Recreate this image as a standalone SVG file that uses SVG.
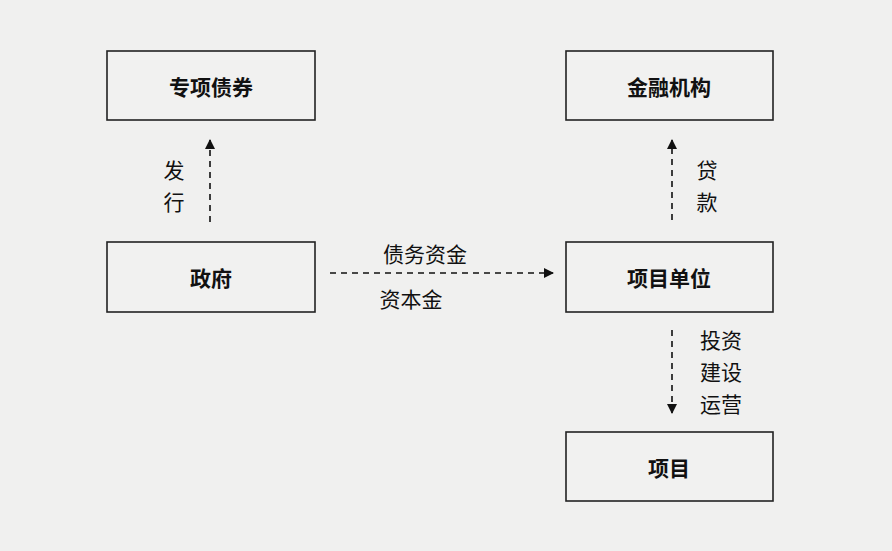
<svg xmlns="http://www.w3.org/2000/svg" width="892" height="551" viewBox="0 0 892 551">
<defs>
<style>
.box{fill:#f1f1f0;stroke:#222;stroke-width:1.6}
.t{font-family:"Noto Sans CJK SC",sans-serif;font-size:21px;font-weight:bold;fill:#111;text-anchor:middle;dominant-baseline:central}
.l{font-family:"Noto Sans CJK SC",sans-serif;font-size:21px;fill:#111;text-anchor:middle}
.c{stroke:#111;stroke-width:1.6;stroke-dasharray:6 5;fill:none}
</style>
<marker id="a" viewBox="0 0 10 10" refX="9" refY="5" markerWidth="10" markerHeight="10" markerUnits="userSpaceOnUse" orient="auto"><path d="M0,0L10,5L0,10z" fill="#111"/></marker>
</defs>
<rect width="892" height="551" fill="#f0f0ef"/>
<g id="n1"><rect class="box" x="107" y="51" width="208" height="69"/><text class="t" x="211" y="86">专项债券</text></g>
<g id="n2"><rect class="box" x="566" y="51" width="207" height="69"/><text class="t" x="669" y="86">金融机构</text></g>
<g id="n3"><rect class="box" x="107" y="242" width="208" height="70"/><text class="t" x="211" y="277">政府</text></g>
<g id="n4"><rect class="box" x="566" y="242" width="207" height="70"/><text class="t" x="669" y="277">项目单位</text></g>
<g id="n5"><rect class="box" x="566" y="432" width="207" height="69"/><text class="t" x="669" y="467">项目</text></g>
<g id="edges">
<line class="c" x1="210" y1="222" x2="210" y2="140" marker-end="url(#a)"/>
<line class="c" x1="672" y1="220" x2="672" y2="140" marker-end="url(#a)"/>
<line class="c" x1="330" y1="273" x2="553" y2="273" marker-end="url(#a)"/>
<line class="c" x1="672" y1="330" x2="672" y2="413" marker-end="url(#a)"/>
<text class="l" x="174" y="178">发</text><text class="l" x="174" y="210">行</text>
<text class="l" x="707" y="178">贷</text><text class="l" x="707" y="210">款</text>
<text class="l" x="425" y="262">债务资金</text>
<text class="l" x="411" y="307">资本金</text>
<text class="l" x="721" y="348">投资</text><text class="l" x="721" y="380">建设</text><text class="l" x="721" y="412">运营</text>
</g>
</svg>
